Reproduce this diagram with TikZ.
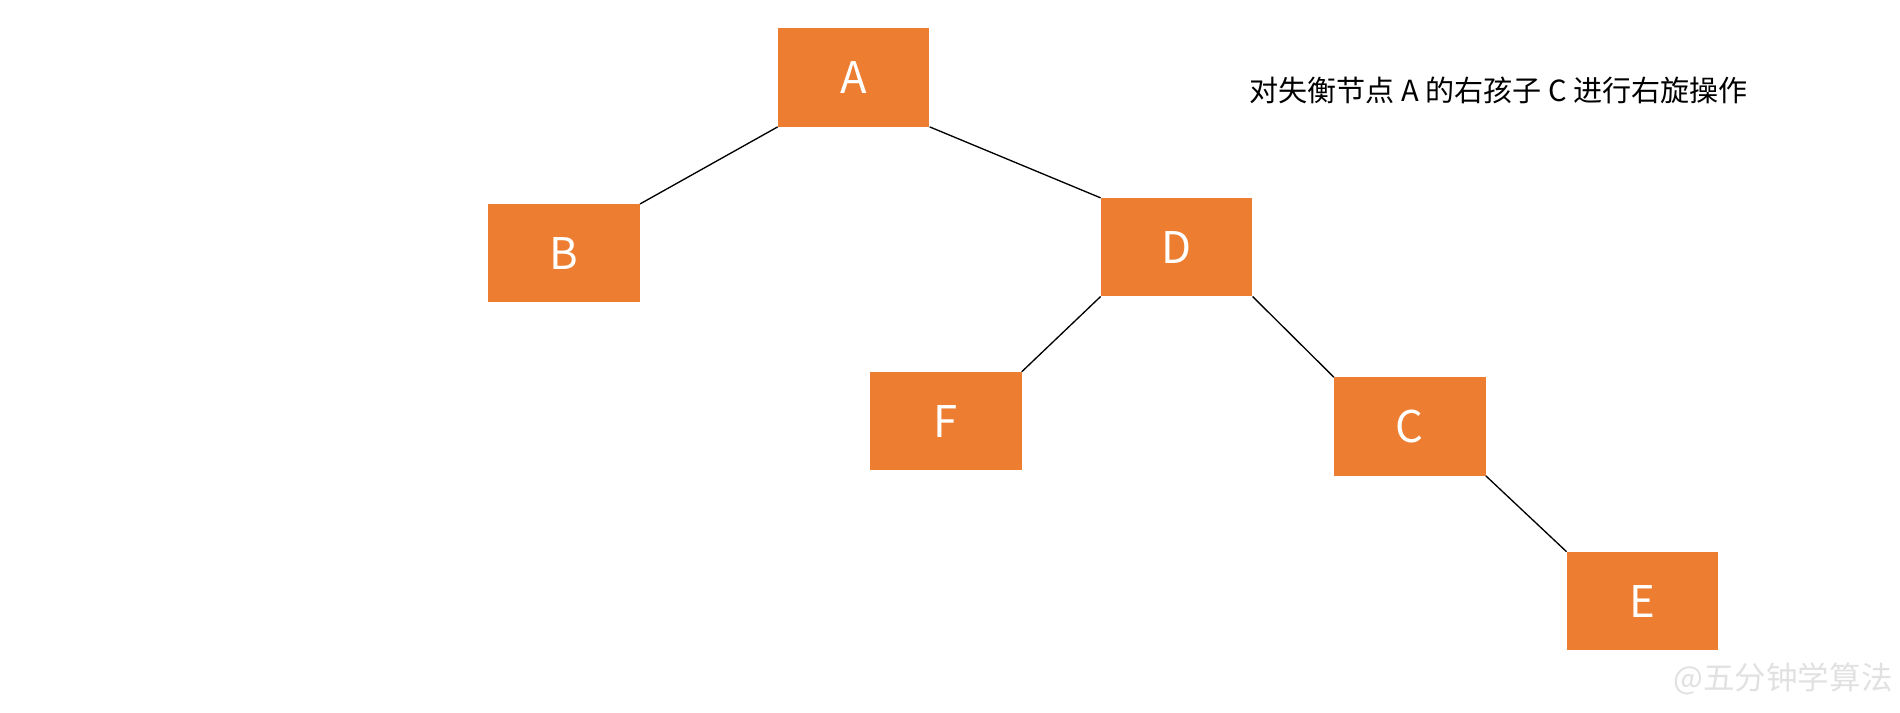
\documentclass[tikz,border=0pt]{standalone}
\usepackage{fontspec}
\setmainfont{Noto Sans CJK SC}
\begin{document}
\begin{tikzpicture}[x=1pt,y=-1pt,
  nd/.style={fill={rgb,255:red,237;green,125;blue,49},minimum width=125pt,minimum height=81pt,inner sep=0pt,text=white,font=\fontsize{36}{40}\selectfont},
  ln/.style={draw=black,line width=1.1pt}]
\useasboundingbox (0,0) rectangle (1568,588);
\node[nd] (A) at (704.5,64) {A};
\node[nd] (B) at (465.5,209) {B};
\node[nd] (D) at (971,204) {D};
\node[nd] (F) at (780.5,347.5) {F};
\node[nd] (C) at (1163.5,352) {C};
\node[nd] (E) at (1355.5,496) {E};
\draw[ln] (A.south west) -- (B.north east);
\draw[ln] (A.south east) -- (D.north west);
\draw[ln] (D.south west) -- (F.north east);
\draw[ln] (D.south east) -- (C.north west);
\draw[ln] (C.south east) -- (E.north west);
\node[anchor=west,inner sep=0pt,font=\fontsize{24}{28}\selectfont] (t) at (1031,75) {对失衡节点 A 的右孩子 C 进行右旋操作};
\node[anchor=east,inner sep=0pt,text={rgb,255:red,225;green,225;blue,225},font=\fontsize{26}{30}\selectfont] (w) at (1562,560) {@五分钟学算法};
\end{tikzpicture}
\end{document}
